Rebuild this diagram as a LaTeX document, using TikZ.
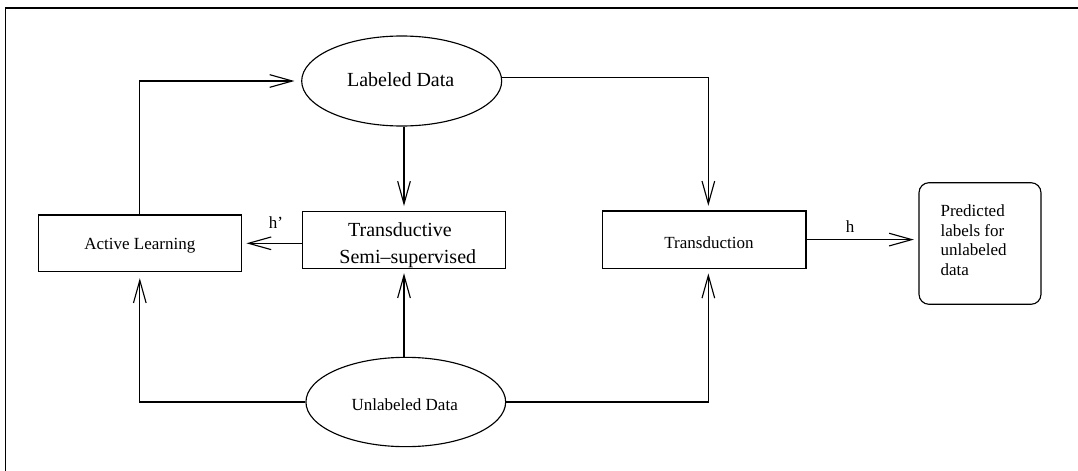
\documentclass[tikz,border=0pt]{standalone}
\usepackage{fontspec}
\setmainfont{Liberation Serif}
\usetikzlibrary{arrows.meta,shapes.geometric,calc}

\begin{document}
\begin{tikzpicture}[x=0.75pt,y=-0.75pt,
  line width=0.85pt,
  boxnode/.style={draw, rectangle, inner sep=0pt},
  datanode/.style={draw, ellipse, inner sep=0pt},
  conn/.style={-{Straight Barb[length=17pt,width=9.5pt]}, shorten >=3.4pt},
  smalltxt/.style={font=\fontsize{12.75pt}{14.7pt}\selectfont, inner sep=0pt, anchor=base},
  bigtxt/.style={font=\fontsize{15pt}{18pt}\selectfont, inner sep=0pt, anchor=base}]

\useasboundingbox (0,0) rectangle (1078,471);

% open frame along the left and top edges
\draw (5.7,471) -- (5.7,8) -- (1078,8);

% data sources
\node[datanode, minimum width=150pt, minimum height=67.5pt] (ld) at (401.7,81) {};
\node[datanode, minimum width=149.8pt, minimum height=67pt] (ud) at (405.8,402) {};

% learning boxes
\node[boxnode, minimum width=152.25pt, minimum height=42.5pt] (al) at (139.8,243.3) {};
\node[boxnode, minimum width=152.5pt, minimum height=42.75pt] (ts) at (404,239.6) {};
\node[boxnode, minimum width=152.5pt, minimum height=43pt] (tr) at (704.35,239.6) {};
\node[boxnode, rounded corners=7.5pt, minimum width=91.5pt, minimum height=91.2pt] (pr) at (980,243.5) {};

% texts
\node[bigtxt] (ldtxt) at (400.7,86) {Labeled Data};
\node[smalltxt] (udtxt) at (404.7,410.7) {Unlabeled Data};
\node[smalltxt] (altxt) at (139.8,249.3) {Active Learning};
\node[bigtxt] (tstxta) at (400,236) {Transductive};
\node[bigtxt] (tstxtb) at (407.8,263.3) {Semi–supervised};
\node[smalltxt] (trtxt) at (709,248.3) {Transduction};
\node[smalltxt, anchor=base west] (pr1) at (940,216.7) {Predicted};
\node[smalltxt, anchor=base west] (pr2) at (940,236.3) {labels for};
\node[smalltxt, anchor=base west] (pr3) at (940,255.9) {unlabeled};
\node[smalltxt, anchor=base west] (pr4) at (940,275.5) {data};
\node[smalltxt] (hp) at (276,228.3) {h’};
\node[smalltxt] (hh) at (850,232.7) {h};

% connectors
\draw[conn, shorten >=5pt] (al.north) |- (ld.west);
\draw[conn] (ts.north |- ld.south) -- (ts.north);
\draw[conn] (ld.2.3) -| ([xshift=3pt]tr.north);
\draw[conn] (ts.west |- al.east) -- (al.east);
\draw[conn, shorten >=4.5pt] (ud.west) -| (al.south);
\draw[conn] (ts.south |- ud.north) -- (ts.south);
\draw[conn] (ud.east) -| ([xshift=3pt]tr.south);
\draw[conn] (tr.east) -- (tr.east -| pr.west);
\end{tikzpicture}
\end{document}
